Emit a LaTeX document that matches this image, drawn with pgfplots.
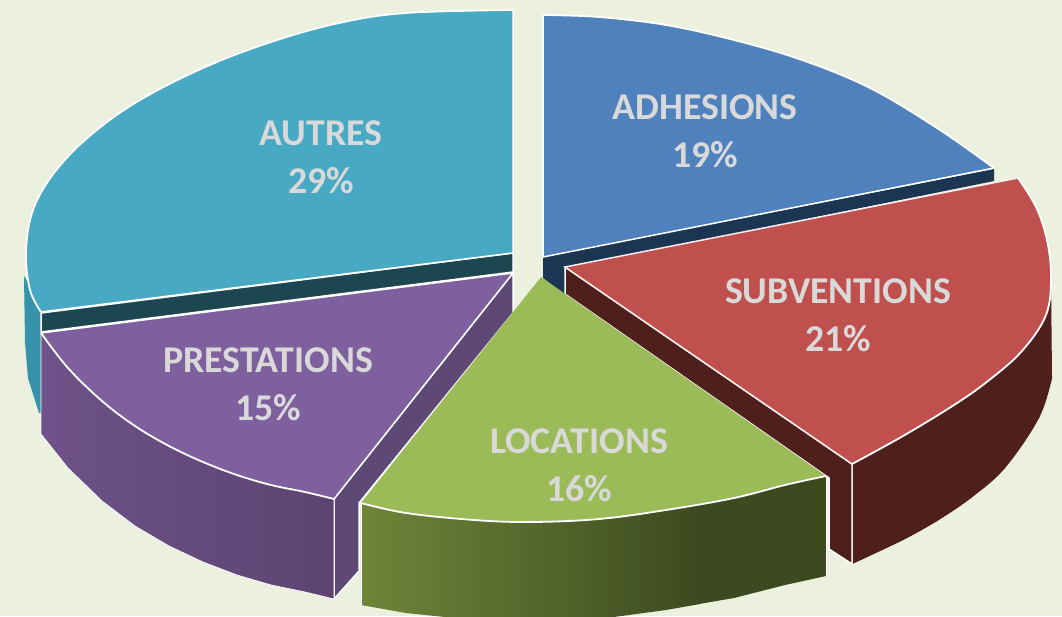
\documentclass[border=0pt]{standalone}
\usepackage{pgfplots}
\pgfplotsset{compat=1.18}
\usepackage{fontspec}
\setmainfont{Carlito}
\definecolor{bg}{HTML}{EBF1DE}
\definecolor{cA}{HTML}{48A9C5}
\definecolor{cAb}{HTML}{1C4650}
\definecolor{cAs}{HTML}{3792AC}
\definecolor{cB}{HTML}{4F81BD}
\definecolor{cBb}{HTML}{1B3552}
\definecolor{cR}{HTML}{C0504D}
\definecolor{cRs}{HTML}{4F1F1C}
\definecolor{cG}{HTML}{9BBB59}
\definecolor{cGl}{HTML}{6F8539}
\definecolor{cGr}{HTML}{3D4A20}
\definecolor{cP}{HTML}{7F609F}
\definecolor{cPs}{HTML}{5E4875}
\definecolor{cPl}{HTML}{6E5289}
\definecolor{cPr}{HTML}{5C4470}
\definecolor{txt}{HTML}{D9D9D9}
\tikzset{lab/.style={text=txt,font=\fontsize{37.8}{46}\selectfont\bfseries,align=center}}
\begin{document}
\begin{tikzpicture}
\begin{axis}[scale only axis,width=1062pt,height=616pt,xmin=0,xmax=1062,ymin=0,ymax=616,y dir=reverse,axis lines=none,
  edge/.style={draw=white,line width=1.5pt,line join=round},
  thinedge/.style={draw=white,line width=0.7pt,line join=round},
  arc/.style={smooth,tension=0.6,draw=white,line width=1.8pt}]
\addplot[fill=bg,draw=none] coordinates {(0,0)(1062,0)(1062,616)(0,616)};

% AUTRES side and band
\addplot[fill=cAs,draw=none] coordinates {(24,276)(25,342)(28,378)(39,413)(41,413)(41,300)(30,285)} -- cycle;
\addplot[fill=cAb,edge] coordinates {(513,253)(513,272)(41,332)(41,313)} -- cycle;

% PRESTATIONS sides
\addplot[fill=cPs,edge] coordinates {(513,273)(513,313)(359,503)(359,571)(334,599)(334,499)} -- cycle;
\addplot[left color=cPl,right color=cPr,thinedge] coordinates {(41,333)(68,368)(102,401)(135,426)(169,446)(203,462)(237,475)(271,485)(305,492)(334,499)(334,599)(305,592)(271,585)(237,575)(203,562)(169,546)(135,526)(102,501)(68,468)(41,434)} -- cycle;
\addplot[fill=cP,draw=none] coordinates {(513,273)(41,333)(68,368)(102,401)(135,426)(169,446)(203,462)(237,475)(271,485)(305,492)(334,499)} -- cycle;
\addplot[smooth,tension=0.6,fill=cP,draw=none] coordinates {(41,333)(68,368)(102,401)(135,426)(169,446)(203,462)(237,475)(271,485)(305,492)(334,499)};
\addplot[draw=white,line width=1.5pt] coordinates {(334,499)(513,273)(41,333)};
\addplot[arc] coordinates {(41,333)(68,368)(102,401)(135,426)(169,446)(203,462)(237,475)(271,485)(305,492)(334,499)};

% AUTRES top
\addplot[fill=cA,draw=none] coordinates {(513,10)(406,13)(339,23)(271,42)(203,68)(135,103)(85,140)(51,177)(32,213)(26,253)(30,290)(41,312)(513,253)} -- cycle;
\addplot[smooth,tension=0.6,fill=cA,draw=none] coordinates {(513,10)(406,13)(339,23)(271,42)(203,68)(135,103)(85,140)(51,177)(32,213)(26,253)(30,290)(41,312)};
\addplot[draw=white,line width=1.5pt] coordinates {(41,312)(513,253)(513,10)};
\addplot[arc] coordinates {(513,10)(406,13)(339,23)(271,42)(203,68)(135,103)(85,140)(51,177)(32,213)(26,253)(30,290)(41,312)};

% ADHESIONS band and top
\addplot[fill=cBb,draw=none] coordinates {(543,257)(994,169)(994,181)(565,268)(565,295)(543,278)} -- cycle;
\addplot[fill=cB,draw=none] coordinates {(543,15)(599,17)(666,25)(734,40)(802,60)(870,88)(937,128)(994,168)(543,257)} -- cycle;
\addplot[smooth,tension=0.6,fill=cB,draw=none] coordinates {(543,15)(599,17)(666,25)(734,40)(802,60)(870,88)(937,128)(994,168)};
\addplot[draw=white,line width=1.5pt] coordinates {(994,168)(543,257)(543,15)};
\addplot[arc] coordinates {(543,15)(599,17)(666,25)(734,40)(802,60)(870,88)(937,128)(994,168)};

% SUBVENTIONS sides and top
\addplot[fill=cRs,edge] coordinates {(565,267)(852,464)(852,564)(829,549)(829,478)(565,294)} -- cycle;
\addplot[fill=cRs,draw=none] coordinates {(1051,277)(1052,378)(1039,418)(1005,468)(971,498)(937,521)(903,540)(852,564)(852,464)} -- cycle;
\addplot[smooth,tension=0.6,fill=cRs,draw=none] coordinates {(1052,378)(1039,418)(1005,468)(971,498)(937,521)(903,540)(852,564)};
\addplot[fill=cR,draw=none] coordinates {(565,267)(1018,178)(1036,207)(1047,240)(1051,277)(1046,315)(1022,351)(988,381)(954,405)(903,436)(852,464)} -- cycle;
\addplot[smooth,tension=0.6,fill=cR,draw=none] coordinates {(1018,178)(1036,207)(1047,240)(1051,277)(1046,315)(1022,351)(988,381)(954,405)(903,436)(852,464)};
\addplot[draw=white!90!cR,line width=1.5pt] coordinates {(852,464)(565,267)(1018,178)};
\addplot[arc] coordinates {(1018,178)(1036,207)(1047,240)(1051,277)(1046,315)(1022,351)(988,381)(954,405)(903,436)(852,464)};
\addplot[draw=white!90!cR,line width=1pt] coordinates {(852,464)(852,564)};

% LOCATIONS side and top
\addplot[left color=cGl,right color=cGr,draw=none] coordinates {(361,503)(406,513)(474,520)(531,521)(599,519)(666,510)(700,504)(700,604)(666,610)(599,619)(531,622)(474,620)(406,613)(361,605)} -- cycle;
\addplot[fill=cGr,draw=none] coordinates {(699,504)(734,498)(785,485)(826,476)(826,576)(785,585)(734,598)(699,604)} -- cycle;
\addplot[draw=white,line width=1pt] coordinates {(361,503)(361,605)};
\addplot[fill=cG,draw=none] coordinates {(541,277)(361,503)(406,513)(474,520)(531,521)(599,519)(666,510)(734,498)(785,485)(826,476)} -- cycle;
\addplot[smooth,tension=0.6,fill=cG,draw=none] coordinates {(361,503)(406,513)(474,520)(531,522)(599,519)(666,510)(734,498)(785,485)(826,476)};
\addplot[arc] coordinates {(361,503)(406,513)(474,520)(531,522)(599,519)(666,510)(734,498)(785,485)(826,476)};
\addplot[draw=white,line width=1pt] coordinates {(826,476)(826,576)};

\node[lab] at (axis cs:705,131) {ADHESIONS\\[2pt]19\%};
\node[lab] at (axis cs:321,157) {AUTRES\\[2pt]29\%};
\node[lab] at (axis cs:838,315) {SUBVENTIONS\\[2pt]21\%};
\node[lab] at (axis cs:268,384) {PRESTATIONS\\[2pt]15\%};
\node[lab] at (axis cs:579,465) {LOCATIONS\\[2pt]16\%};
\end{axis}
\end{tikzpicture}
\end{document}
